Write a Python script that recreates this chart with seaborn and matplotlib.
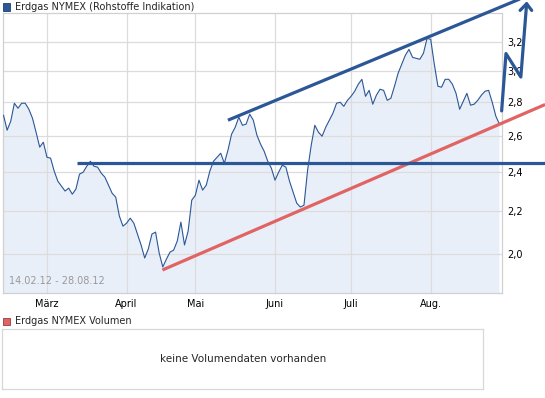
import numpy as np
import pandas as pd
import seaborn as sns
import matplotlib
matplotlib.use('Agg')
import matplotlib.pyplot as plt
from matplotlib.patches import Rectangle
from matplotlib.ticker import FixedLocator, NullLocator

# Handelstage 14.02.12 - 28.08.12 (Karfreitag, Ostermontag, 1. Mai ohne Kurs)
holidays = ['2012-04-06', '2012-04-09', '2012-05-01']
dates = pd.bdate_range('2012-02-14', '2012-08-28')
dates = dates[~dates.isin(pd.to_datetime(holidays))]

prices = [
    2.721, 2.632, 2.685, 2.794, 2.763, 2.794, 2.794, 2.757, 2.703, 2.620,
    2.535, 2.563, 2.479, 2.474, 2.404, 2.351, 2.325, 2.300, 2.315, 2.284,
    2.310, 2.388, 2.398, 2.430, 2.457, 2.430, 2.425, 2.393, 2.372, 2.330,
    2.289, 2.269, 2.176, 2.128, 2.142, 2.166, 2.142, 2.091, 2.041, 1.983,
    2.023, 2.091, 2.100, 2.005, 1.944, 1.978, 2.009, 2.018, 2.059, 2.147,
    2.041, 2.105, 2.254, 2.279, 2.356, 2.305, 2.330, 2.404, 2.457, 2.479,
    2.501, 2.446, 2.518, 2.609, 2.649, 2.709, 2.661, 2.667, 2.727, 2.691,
    2.603, 2.552, 2.512, 2.457, 2.419, 2.356, 2.398, 2.436, 2.425, 2.351,
    2.295, 2.239, 2.220, 2.229, 2.409, 2.546, 2.661, 2.620, 2.597, 2.649,
    2.691, 2.733, 2.794, 2.800, 2.775, 2.812, 2.837, 2.869, 2.914, 2.946,
    2.837, 2.875, 2.788, 2.844, 2.882, 2.875, 2.812, 2.825, 2.901, 2.986,
    3.046, 3.107, 3.148, 3.093, 3.086, 3.080, 3.121, 3.226, 3.219, 3.046,
    2.901, 2.895, 2.946, 2.946, 2.914, 2.856, 2.757, 2.806, 2.856, 2.782,
    2.788, 2.812, 2.844, 2.869, 2.875, 2.800, 2.715, 2.667,
]

month_labels = ['März', 'April', 'Mai', 'Juni', 'Juli', 'Aug.']
y_ticks = [2.0, 2.2, 2.4, 2.6, 2.8, 3.0, 3.2]

# eingezeichnete Linien (Handelstag-Index, Kurs)
resist_x, resist_y = [20.3, 149.6], [2.45, 2.45]
upper_x, upper_y = [62.0, 143.0], [2.691, 3.524]
support_x, support_y = [43.9, 149.6], [1.931, 2.786]
arrow_x = [137.6, 138.8, 142.9, 144.5]
arrow_y = [2.747, 3.119, 2.961, 3.483]
head_x, head_y = [142.7, 144.5, 145.9], [3.432, 3.483, 3.432]

blue = '#2b5797'
red = '#e06464'
grid_c = '#dcdcdc'

df = pd.DataFrame({'t': np.arange(len(prices)), 'kurs': prices})
month_pos = [int(np.argmax(dates.month == m)) for m in range(3, 9)]

sns.set_style('white')
plt.rcParams['font.family'] = ['DejaVu Sans']

fig = plt.figure(figsize=(5.45, 3.98), dpi=100)
ax = fig.add_axes([3 / 545, 105 / 398, 499 / 545, 279.7 / 398])

ax.fill_between(df['t'], df['kurs'], 1.0, color='#e9eff9', zorder=1, lw=0)
sns.lineplot(data=df, x='t', y='kurs', ax=ax, color=blue, lw=0.8, zorder=3)

ax.set_yscale('log')
ax.set_ylim(1.835, 3.41)
ax.set_xlim(-0.14, 137.7)
ax.yaxis.set_major_locator(FixedLocator(y_ticks))
ax.yaxis.set_minor_locator(NullLocator())
ax.set_yticklabels([f'{v:.1f}'.replace('.', ',') for v in y_ticks])
ax.yaxis.tick_right()
ax.set_xticks(month_pos)
ax.set_xticklabels(month_labels)
ax.tick_params(length=0, labelsize=7, colors='black', pad=4)
ax.set_xlabel('')
ax.set_ylabel('')
ax.grid(True, color=grid_c, lw=0.9)
ax.set_axisbelow('line')
for s in ax.spines.values():
    s.set_color('#d0d0d0')
    s.set_linewidth(0.9)

ax.text(0.012, 0.025, '14.02.12 - 28.08.12', transform=ax.transAxes,
        fontsize=7, color='#999999', ha='left', va='bottom', zorder=2)

# eingezeichnete Trendlinien
ax.plot(support_x, support_y, color=red, lw=2.3, clip_on=False, zorder=4,
        solid_capstyle='butt')
ax.plot(resist_x, resist_y, color=blue, lw=2.3, clip_on=False, zorder=5,
        solid_capstyle='butt')
ax.plot(upper_x, upper_y, color=blue, lw=2.3, clip_on=False, zorder=5,
        solid_capstyle='butt')
ax.plot(arrow_x, arrow_y, color=blue, lw=2.3, clip_on=False, zorder=5)
ax.plot(head_x, head_y, color=blue, lw=2.3, clip_on=False, zorder=5)

# Legenden
fig.patches.append(Rectangle((3 / 545, 1 - 10.5 / 398), 7 / 545, 7 / 398,
                             transform=fig.transFigure, facecolor=blue,
                             edgecolor='#1c3f72', lw=0.6))
fig.text(15 / 545, 1 - 6.5 / 398, 'Erdgas NYMEX (Rohstoffe Indikation)',
         fontsize=7, va='center', ha='left')
fig.patches.append(Rectangle((3 / 545, 1 - 325 / 398), 7 / 545, 7 / 398,
                             transform=fig.transFigure, facecolor=red,
                             edgecolor='#903c3c', lw=0.6))
fig.text(15 / 545, 1 - 321 / 398, 'Erdgas NYMEX Volumen',
         fontsize=7, va='center', ha='left')

# Volumen-Feld
ax2 = fig.add_axes([2.3 / 545, 8.7 / 398, 480.7 / 545, 60 / 398])
ax2.set_xticks([])
ax2.set_yticks([])
for s in ax2.spines.values():
    s.set_color('#d8d8d8')
    s.set_linewidth(0.9)
ax2.text(0.5, 0.5, 'keine Volumendaten vorhanden', transform=ax2.transAxes,
         ha='center', va='center', fontsize=7.5)

fig.savefig('out.png', dpi=100)
